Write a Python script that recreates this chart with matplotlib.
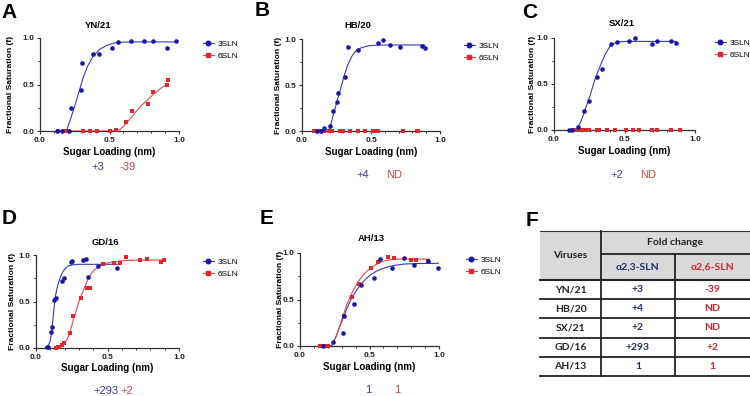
import matplotlib
matplotlib.use("Agg")
import matplotlib.pyplot as plt
from matplotlib.lines import Line2D
from matplotlib.ticker import MultipleLocator, FormatStrFormatter

NARROW = ['Liberation Sans Narrow', 'Liberation Sans', 'DejaVu Sans']
plt.rcParams['font.family'] = NARROW

# ---- data ----
titles = ["YN/21", "HB/20", "SX/21", "GD/16", "AH/13"]
letters = ["A", "B", "C", "D", "E"]
fold_3sln = ["+3", "+4", "+2", "+293", "1"]
fold_6sln = ["-39", "ND", "ND", "+2", "1"]

# panel A
a_3x = [0.125, 0.156, 0.21, 0.225, 0.295, 0.30, 0.38, 0.425, 0.52, 0.56, 0.655, 0.745, 0.815, 0.915, 0.98]
a_3y = [0, 0, 0, 0.25, 0.44, 0.73, 0.83, 0.83, 0.89, 0.96, 0.97, 0.97, 0.97, 0.89, 0.97]
a_6x = [0.13, 0.17, 0.20, 0.31, 0.36, 0.41, 0.50, 0.55, 0.62, 0.665, 0.78, 0.81, 0.915, 0.92]
a_6y = [0, 0, 0, 0, 0, 0, 0, 0.015, 0.10, 0.21, 0.29, 0.415, 0.495, 0.55]
a_3fx = [0.125, 0.19, 0.22, 0.25, 0.28, 0.31, 0.34, 0.38, 0.43, 0.48, 0.53, 0.6, 0.7, 0.98]
a_3fy = [0, 0, 0.13, 0.27, 0.42, 0.57, 0.69, 0.8, 0.88, 0.92, 0.945, 0.955, 0.958, 0.958]
a_6fx = [0.13, 0.55, 0.58, 0.62, 0.67, 0.72, 0.77, 0.82, 0.87, 0.92]
a_6fy = [0, 0, 0.02, 0.08, 0.17, 0.26, 0.33, 0.40, 0.46, 0.51]

# panel B
b_3x = [0.108, 0.14, 0.16, 0.2, 0.222, 0.253, 0.26, 0.31, 0.335, 0.405, 0.554, 0.59, 0.64, 0.71, 0.867, 0.89]
b_3y = [0, 0, 0.03, 0.055, 0.22, 0.316, 0.41, 0.59, 0.91, 0.876, 0.956, 0.99, 0.93, 0.915, 0.92, 0.905]
b_6x = [0.084, 0.108, 0.137, 0.161, 0.193, 0.217, 0.277, 0.296, 0.349, 0.405, 0.458, 0.511, 0.53, 0.542, 0.554, 0.73, 0.831, 0.843]
b_6y = [0] * 18
b_3fx = [0.108, 0.19, 0.21, 0.23, 0.255, 0.28, 0.305, 0.33, 0.36, 0.39, 0.43, 0.48, 0.55, 0.89]
b_3fy = [0, 0, 0.08, 0.19, 0.33, 0.46, 0.6, 0.71, 0.81, 0.87, 0.905, 0.925, 0.935, 0.935]
b_6fx = [0.084, 0.843]
b_6fy = [0, 0]

# panel C
c_3x = [0.109, 0.125, 0.173, 0.215, 0.25, 0.305, 0.34, 0.406, 0.447, 0.53, 0.577, 0.695, 0.733, 0.83, 0.865]
c_3y = [0, 0, 0.037, 0.209, 0.31, 0.58, 0.66, 0.934, 0.96, 0.97, 0.996, 0.934, 0.963, 0.963, 0.945]
c_6x = [0.132, 0.161, 0.185, 0.208, 0.232, 0.251, 0.303, 0.322, 0.378, 0.433, 0.511, 0.558, 0.605, 0.693, 0.733, 0.83, 0.894]
c_6y = [0] * 17
c_3fx = [0.109, 0.149, 0.165, 0.184, 0.2, 0.22, 0.255, 0.29, 0.326, 0.362, 0.397, 0.444, 0.515, 0.865]
c_3fy = [0, 0, 0.02, 0.07, 0.13, 0.22, 0.37, 0.55, 0.69, 0.82, 0.91, 0.956, 0.963, 0.963]
c_6fx = [0.132, 0.894]
c_6fy = [0, 0]

# panel D
d_3x = [0.075, 0.086, 0.105, 0.114, 0.126, 0.14, 0.18, 0.196, 0.245, 0.254, 0.331, 0.347, 0.366, 0.436, 0.569]
d_3y = [0.007, 0.014, 0.176, 0.222, 0.516, 0.54, 0.72, 0.75, 0.92, 0.94, 0.946, 0.957, 0.767, 0.885, 0.857]
d_6x = [0.14, 0.156, 0.18, 0.198, 0.238, 0.261, 0.312, 0.354, 0.378, 0.466, 0.548, 0.587, 0.627, 0.727, 0.774, 0.874, 0.897]
d_6y = [0, 0.007, 0.03, 0.05, 0.165, 0.348, 0.534, 0.642, 0.642, 0.9, 0.91, 0.91, 0.982, 0.946, 0.953, 0.921, 0.946]
d_3fx = [0.063, 0.08, 0.098, 0.108, 0.117, 0.125, 0.133, 0.145, 0.156, 0.172, 0.191, 0.21, 0.226, 0.26, 0.3, 0.569]
d_3fy = [0, 0.01, 0.068, 0.15, 0.283, 0.41, 0.534, 0.63, 0.695, 0.77, 0.828, 0.865, 0.882, 0.895, 0.9, 0.9]
d_6fx = [0.145, 0.17, 0.191, 0.21, 0.226, 0.245, 0.261, 0.28, 0.296, 0.315, 0.333, 0.35, 0.366, 0.385,
         0.4, 0.425, 0.448, 0.48, 0.517, 0.56, 0.611, 0.7, 0.897]
d_6fy = [0, 0.005, 0.032, 0.075, 0.122, 0.21, 0.3, 0.39, 0.48, 0.56, 0.624, 0.69, 0.75, 0.795,
         0.828, 0.86, 0.885, 0.905, 0.921, 0.93, 0.939, 0.944, 0.946]

# panel E
e_3x = [0.168, 0.235, 0.307, 0.319, 0.388, 0.436, 0.53, 0.578, 0.664, 0.75, 0.823, 0.923, 0.993]
e_3y = [0, 0.047, 0.136, 0.326, 0.45, 0.656, 0.728, 0.936, 0.842, 0.95, 0.871, 0.914, 0.835]
e_6x = [0.144, 0.17, 0.199, 0.319, 0.372, 0.422, 0.511, 0.561, 0.633, 0.674, 0.796, 0.832, 0.923]
e_6y = [0, 0, 0, 0.326, 0.523, 0.667, 0.835, 0.9, 0.953, 0.943, 0.928, 0.928, 0.914]
e_3fx = [0.165, 0.228, 0.245, 0.264, 0.282, 0.3, 0.318, 0.336, 0.354, 0.372, 0.39, 0.408, 0.426, 0.444,
         0.468, 0.492, 0.52, 0.552, 0.59, 0.635, 0.69, 0.755, 0.85, 0.995]
e_3fy = [0, 0, 0.055, 0.118, 0.19, 0.26, 0.33, 0.4, 0.46, 0.513, 0.56, 0.602, 0.64, 0.674,
         0.712, 0.746, 0.778, 0.806, 0.83, 0.853, 0.87, 0.882, 0.887, 0.889]
e_6fx = [0.144, 0.228, 0.245, 0.264, 0.282, 0.3, 0.318, 0.336, 0.354, 0.372, 0.39, 0.408, 0.426, 0.444,
         0.468, 0.492, 0.516, 0.54, 0.575, 0.612, 0.66, 0.707, 0.923]
e_6fy = [0, 0, 0.055, 0.118, 0.2, 0.28, 0.36, 0.44, 0.505, 0.566, 0.617, 0.663, 0.705, 0.745,
         0.785, 0.817, 0.846, 0.871, 0.897, 0.918, 0.93, 0.935, 0.935]

panels = [
    (a_3x, a_3y, a_6x, a_6y, a_3fx, a_3fy, a_6fx, a_6fy),
    (b_3x, b_3y, b_6x, b_6y, b_3fx, b_3fy, b_6fx, b_6fy),
    (c_3x, c_3y, c_6x, c_6y, c_3fx, c_3fy, c_6fx, c_6fy),
    (d_3x, d_3y, d_6x, d_6y, d_3fx, d_3fy, d_6fx, d_6fy),
    (e_3x, e_3y, e_6x, e_6y, e_3fx, e_3fy, e_6fx, e_6fy),
]

# table F
tbl_viruses = ["YN/21", "HB/20", "SX/21", "GD/16", "AH/13"]
tbl_23 = ["+3", "+4", "+2", "+293", "1"]
tbl_26 = ["-39", "ND", "ND", "+2", "1"]

# ---- layout (pixels of a 750x396 canvas) ----
W, H = 750, 396
# axes boxes: left, top, right, bottom in px
boxes = [(40, 38, 179, 131), (302, 39, 440, 131), (554, 38, 695, 130),
         (36, 255, 179, 348), (300, 253, 439, 346)]
ylab_x = [11, 279, 533, 13, 280]
xlab_y = [152, 152, 151, 368, 367]
title_pos = [(98, 25), (358, 25), (622, 23), (105, 242), (371, 239)]
letter_pos = [(9, 12), (262, 10), (530, 12), (9, 219), (267, 219)]
annot_pos = [((98, 167), (128, 167)), ((363, 175), (394, 175)), ((617, 175), (648, 175)),
             ((106, 391), (127, 391)), ((368, 390), (397, 390))]
legend_pos = [(203, 40), (464, 42), (715, 39), (203, 258), (466, 256)]

BLUE = "#1717a8"
BLUE_L = "#3a3ab8"
RED = "#e3262b"
RED_L = "#e24a4a"
ABLUE = "#3c3c9c"
ARED = "#d64545"
AXC = "#333333"

fig = plt.figure(figsize=(W / 100, H / 100), dpi=100)

for i, (x3, y3, x6, y6, f3x, f3y, f6x, f6y) in enumerate(panels):
    l, t, r, b = boxes[i]
    ax = fig.add_axes([l / W, 1 - b / H, (r - l) / W, (b - t) / H])
    ax.plot(f3x, f3y, color=BLUE_L, lw=0.8, zorder=2)
    ax.plot(f6x, f6y, color=RED_L, lw=0.8, zorder=2)
    ax.plot(x3, y3, 'o', color=BLUE, ms=3.3, mew=0, clip_on=False, zorder=4)
    ax.plot(x6, y6, 's', color=RED, ms=3.0, mew=0, clip_on=False, zorder=3)
    ax.set_xlim(0, 1)
    ax.set_ylim(0, 1)
    for s in ['top', 'right']:
        ax.spines[s].set_visible(False)
    for s in ['left', 'bottom']:
        ax.spines[s].set_linewidth(0.9)
        ax.spines[s].set_color(AXC)
    ax.set_xticks([0, 0.5, 1.0])
    ax.set_yticks([0, 0.5, 1.0])
    ax.xaxis.set_minor_locator(MultipleLocator(0.1))
    ax.yaxis.set_minor_locator(MultipleLocator(0.25))
    ax.xaxis.set_major_formatter(FormatStrFormatter('%.1f'))
    ax.yaxis.set_major_formatter(FormatStrFormatter('%.1f'))
    ax.tick_params(which='major', length=2.5, width=0.8, labelsize=6, pad=1.5, color=AXC)
    ax.tick_params(which='minor', length=1.5, width=0.7, color=AXC)
    for lab in ax.get_xticklabels() + ax.get_yticklabels():
        lab.set_fontweight('bold')
        lab.set_color('#222222')
    ax.set_xlabel("Sugar Loading (nm)", fontsize=7, fontweight='bold')
    ax.set_ylabel("Fractional Saturation (f)", fontsize=6.1, fontweight='bold')
    ax.xaxis.set_label_coords(0.5, -(xlab_y[i] - b) / (b - t))
    ax.yaxis.set_label_coords((ylab_x[i] - l) / (r - l), 0.5)
    ax.xaxis.label.set_va('center')
    ax.yaxis.label.set_va('center')

    tx, ty = title_pos[i]
    fig.text(tx / W, 1 - ty / H, titles[i], fontsize=6.8, fontweight='bold', ha='center', va='center')
    lx, ly = letter_pos[i]
    fig.text(lx / W, 1 - ly / H, letters[i], fontsize=15, fontweight='bold', ha='center', va='center')
    (p1x, p1y), (p2x, p2y) = annot_pos[i]
    fig.text(p1x / W, 1 - p1y / H, fold_3sln[i], fontsize=8, color=ABLUE, ha='center', va='center')
    fig.text(p2x / W, 1 - p2y / H, fold_6sln[i], fontsize=8, color=ARED, ha='center', va='center')

    hx, hy = legend_pos[i]
    handles = [Line2D([], [], color=BLUE_L, lw=0.8, marker='o', ms=3.3, mfc=BLUE, mec=BLUE),
               Line2D([], [], color=RED_L, lw=0.8, marker='s', ms=3.0, mfc=RED, mec=RED)]
    ax.legend(handles, ["3SLN", "6SLN"], loc='upper left',
              bbox_to_anchor=((hx - l) / (r - l), (b - hy) / (b - t)),
              frameon=False, fontsize=6, handlelength=1.3, handletextpad=0.5,
              borderpad=0, borderaxespad=0, labelspacing=0.55)

# ---- table F ----
tb = fig.add_axes([0, 0, 1, 1])
tb.set_xlim(0, W)
tb.set_ylim(H, 0)
tb.axis('off')
fig.text(532 / W, 1 - 221 / H, "F", fontsize=15, fontweight='bold', ha='center', va='center')
tx0, tx1, tx2, tx3 = 540, 601, 675, 750
ty_top, ty_mid, ty_head = 231, 254, 280
row_h = 19.2
tb.fill_between([tx0, tx3], ty_top, ty_head, color='#d9d9d9', lw=0, zorder=0)
tb.plot([tx0, tx3], [ty_top, ty_top], color='#333333', lw=0.8)
tb.plot([tx1, tx3], [ty_mid, ty_mid], color='#222222', lw=1.3)
tb.plot([tx0, tx3], [ty_head, ty_head], color='#222222', lw=1.5)
n = len(tbl_viruses)
for k in range(n):
    yb = ty_head + row_h * (k + 1)
    tb.plot([tx0, tx3], [yb, yb], color='#222222', lw=1.3)
tb.plot([tx1, tx1], [ty_top, ty_head + row_h * n], color='#222222', lw=1.3)
tb.plot([tx2, tx2], [ty_mid, ty_head + row_h * n], color='#222222', lw=1.3)

tfam = ['Lato', 'DejaVu Sans']
tfs = 7.5
tb.text((tx0 + tx1) / 2, (ty_top + ty_head) / 2, "Viruses", fontsize=tfs, fontweight='bold',
        ha='center', va='center', family=tfam, color='#222222')
tb.text((tx1 + tx3) / 2, (ty_top + ty_mid) / 2, "Fold change", fontsize=tfs, fontweight='bold',
        ha='center', va='center', family=tfam, color='#222222')
tb.text((tx1 + tx2) / 2, (ty_mid + ty_head) / 2, "α2,3-SLN", fontsize=tfs, fontweight='bold',
        ha='center', va='center', family=tfam, color='#1f2d6e')
tb.text((tx2 + tx3) / 2, (ty_mid + ty_head) / 2, "α2,6-SLN", fontsize=tfs, fontweight='bold',
        ha='center', va='center', family=tfam, color='#c8282d')
for k in range(n):
    yc = ty_head + row_h * (k + 0.5)
    tb.text((tx0 + tx1) / 2, yc, tbl_viruses[k], fontsize=tfs, fontweight='bold',
            ha='center', va='center', family=tfam, color='#222222')
    tb.text((tx1 + tx2) / 2, yc, tbl_23[k], fontsize=tfs, fontweight='bold',
            ha='center', va='center', family=tfam, color='#1f2d6e')
    tb.text((tx2 + tx3) / 2, yc, tbl_26[k], fontsize=tfs, fontweight='bold',
            ha='center', va='center', family=tfam, color='#c8282d')

fig.savefig("out.png", dpi=100)
